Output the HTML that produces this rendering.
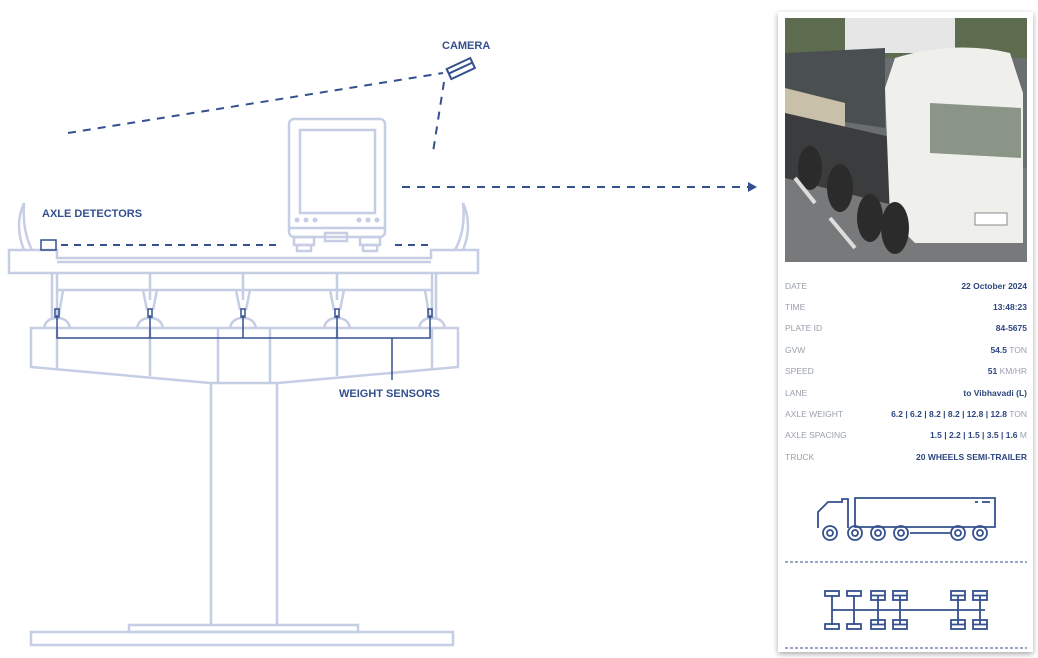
<!DOCTYPE html>
<html><head><meta charset="utf-8"><style>
html,body{margin:0;padding:0;background:#fff;}
body{width:1038px;height:658px;position:relative;overflow:hidden;font-family:"Liberation Sans",sans-serif;}
svg{position:absolute;left:0;top:0}
</style></head><body>
<svg width="1038" height="658" viewBox="0 0 1038 658" xmlns="http://www.w3.org/2000/svg">
<defs>
<filter id="sh" x="-10%" y="-10%" width="120%" height="120%"><feDropShadow dx="0" dy="2" stdDeviation="3" flood-color="#000" flood-opacity="0.35"/></filter>
</defs>
<g fill="none" stroke="#c6cee6" stroke-width="2.5">
<!-- kiosk -->
<rect x="289" y="119" width="96" height="118" rx="5"/>
<rect x="300" y="130" width="75" height="83"/>
<line x1="289" y1="228" x2="385" y2="228"/>
<rect x="294" y="237" width="20" height="8"/><rect x="360" y="237" width="20" height="8"/>
<rect x="297" y="245" width="14" height="6"/><rect x="363" y="245" width="14" height="6"/>
<rect x="325" y="233" width="22" height="8"/>
<!-- horns -->
<path d="M24 250 Q14 225 24 203 Q22 230 32 250"/>
<path d="M463 250 Q473 225 463 203 Q466 230 455 250"/>
<!-- deck -->
<path d="M9 250 H57 V258 H431 V250 H478 V273 H9 Z"/>
<line x1="57" y1="262" x2="431" y2="262"/>
<!-- piers -->
<path d="M52 273 V320 M57 273 V320 M150 273 V300 M243 273 V300 M337 273 V300 M432 273 V320 M436 273 V320"/>
<line x1="57" y1="290" x2="432" y2="290"/>
<path d="M63 290 L59 315 M143 290 L147 310 M157 290 L153 310 M236 290 L240 310 M250 290 L246 310 M330 290 L334 310 M344 290 L340 310 M425 290 L429 315"/>
<path d="M44 328 Q46 318 57 318 Q68 318 70 328 M137 328 Q139 318 150 318 Q161 318 163 328 M230 328 Q232 318 243 318 Q254 318 256 328 M324 328 Q326 318 337 318 Q348 318 350 328 M419 328 Q421 318 432 318 Q443 318 445 328"/>
<!-- cap beam -->
<path d="M31 328 H458 V367 L278 383 H210 L31 367 Z"/>
<path d="M57 328 V370 M150 328 V376 M218 328 V383 M270 328 V383 M337 328 V376 M432 328 V370"/>
<!-- column -->
<path d="M211 383 V625 M277 383 V625"/>
<rect x="129" y="625" width="229" height="7"/>
<rect x="31" y="632" width="422" height="13"/>
</g>
<g fill="#c6cee6"><circle cx="297" cy="220" r="2.5"/><circle cx="306" cy="220" r="2.5"/><circle cx="315" cy="220" r="2.5"/><circle cx="359" cy="220" r="2.5"/><circle cx="368" cy="220" r="2.5"/><circle cx="377" cy="220" r="2.5"/></g>
<!-- dark blue elements -->
<g fill="none" stroke="#34508e" stroke-width="2">
<rect x="41" y="240" width="15" height="10" stroke-width="1.5"/>
<line x1="61" y1="245" x2="280" y2="245" stroke-dasharray="7 6"/>
<line x1="395" y1="245" x2="430" y2="245" stroke-dasharray="7 6"/>
<line x1="68" y1="133" x2="443" y2="73" stroke-dasharray="8 7"/>
<line x1="444" y1="82" x2="433" y2="152" stroke-dasharray="8 7"/>
<line x1="402" y1="187" x2="750" y2="187" stroke-dasharray="8 7"/>
<path d="M57 315 V338 H430 V315 M150 315 V338 M243 315 V338 M337 315 V338 M392 338 V380" stroke-width="1.5"/>
<g stroke-width="1.5"><rect x="55" y="309" width="4" height="8"/><rect x="148" y="309" width="4" height="8"/><rect x="241" y="309" width="4" height="8"/><rect x="335" y="309" width="4" height="8"/><rect x="428" y="309" width="4" height="8"/></g>
<g transform="translate(461 69) rotate(-25)" stroke-width="2"><rect x="-13" y="-6" width="26" height="11"/><line x1="-13" y1="-1" x2="13" y2="-1"/></g>
</g>
<path d="M757 187 L748 182 L748 192 Z" fill="#34508e"/>
<g font-family="Liberation Sans, sans-serif" font-weight="bold" font-size="11" fill="#34508e">
<text x="442" y="49">CAMERA</text>
<text x="42" y="217">AXLE DETECTORS</text>
<text x="339" y="397">WEIGHT SENSORS</text>
</g>
<!-- card -->
<rect x="778" y="12" width="255" height="640" fill="#fff" filter="url(#sh)"/>
<!-- photo -->
<svg x="785" y="18" width="242" height="244" viewBox="0 0 242 244">
<rect width="242" height="244" fill="#6b6e70"/>
<rect width="242" height="40" fill="#5d6b4e"/>
<rect x="60" y="0" width="110" height="35" fill="#e6e6e6"/>
<rect x="0" y="150" width="242" height="94" fill="#77797a"/>
<path d="M0 35 L100 30 L100 110 L0 95 Z" fill="#4a5052"/>
<path d="M0 70 L60 85 L60 110 L0 95 Z" fill="#c9c0aa"/>
<path d="M0 95 L110 120 L120 190 L0 160 Z" fill="#3a3c3e"/>
<path d="M110 40 Q170 22 225 35 L238 75 L238 225 L130 225 L105 200 L100 70 Z" fill="#efefec"/>
<path d="M145 85 L236 90 L236 140 L145 135 Z" fill="#8a9487"/>
<rect x="190" y="195" width="32" height="12" fill="#fff" stroke="#888"/>
<ellipse cx="110" cy="210" rx="14" ry="26" fill="#2b2b2b"/>
<ellipse cx="85" cy="200" rx="13" ry="24" fill="#2b2b2b"/>
<ellipse cx="55" cy="170" rx="13" ry="24" fill="#2b2b2b"/>
<ellipse cx="25" cy="150" rx="12" ry="22" fill="#2b2b2b"/>
<path d="M10 160 L30 185 M45 200 L70 230" stroke="#ddd" stroke-width="4"/>
</svg>
<g font-family="Liberation Sans, sans-serif" font-size="8.5" fill="#9aa0ab">
<text x="785" y="289">DATE</text><text x="785" y="310">TIME</text><text x="785" y="331">PLATE ID</text><text x="785" y="353">GVW</text><text x="785" y="374">SPEED</text><text x="785" y="396">LANE</text><text x="785" y="417">AXLE WEIGHT</text><text x="785" y="438">AXLE SPACING</text><text x="785" y="460">TRUCK</text>
</g>
<g font-family="Liberation Sans, sans-serif" font-size="8.5" text-anchor="end">
<text x="1027" y="289" font-weight="bold" fill="#2d4680">22 October 2024</text>
<text x="1027" y="310" font-weight="bold" fill="#2d4680">13:48:23</text>
<text x="1027" y="331" font-weight="bold" fill="#2d4680">84-5675</text>
<text x="1027" y="353" fill="#9aa0ab"><tspan font-weight="bold" fill="#2d4680">54.5</tspan>  TON</text>
<text x="1027" y="374" fill="#9aa0ab"><tspan font-weight="bold" fill="#2d4680">51</tspan>  KM/HR</text>
<text x="1027" y="396" font-weight="bold" fill="#2d4680">to Vibhavadi (L)</text>
<text x="1027" y="417" fill="#9aa0ab"><tspan font-weight="bold" fill="#2d4680">6.2 | 6.2 | 8.2 | 8.2 | 12.8 | 12.8</tspan>  TON</text>
<text x="1027" y="438" fill="#9aa0ab"><tspan font-weight="bold" fill="#2d4680">1.5 | 2.2 | 1.5 | 3.5 | 1.6</tspan>  M</text>
<text x="1027" y="460" font-weight="bold" fill="#2d4680">20 WHEELS SEMI-TRAILER</text>
</g>
<!-- truck icon -->
<g fill="none" stroke="#34508e" stroke-width="1.8">
<path d="M818 528 V512 L828 502 H842 V499 H848 V528"/>
<path d="M855 498 H995 V527 H855 Z"/>
<line x1="982" y1="502" x2="990" y2="502"/><line x1="975" y1="502" x2="978" y2="502"/>
<circle cx="830" cy="533" r="7"/><circle cx="830" cy="533" r="3"/>
<circle cx="855" cy="533" r="7"/><circle cx="855" cy="533" r="3"/>
<circle cx="878" cy="533" r="7"/><circle cx="878" cy="533" r="3"/>
<circle cx="901" cy="533" r="7"/><circle cx="901" cy="533" r="3"/>
<circle cx="958" cy="533" r="7"/><circle cx="958" cy="533" r="3"/>
<circle cx="980" cy="533" r="7"/><circle cx="980" cy="533" r="3"/>
<line x1="910" y1="533" x2="950" y2="533"/>
</g>
<line x1="785" y1="562" x2="1027" y2="562" stroke="#34508e" stroke-width="1" stroke-dasharray="3 2"/>
<line x1="785" y1="648" x2="1027" y2="648" stroke="#34508e" stroke-width="1" stroke-dasharray="3 2"/>
<!-- axle diagram -->
<g fill="none" stroke="#34508e" stroke-width="1.8">
<line x1="832" y1="610" x2="985" y2="610"/>
<path d="M832 595 V625 M854 595 V625 M878 595 V625 M900 595 V625 M958 595 V625 M980 595 V625"/>
<rect x="825" y="591" width="14" height="5"/><rect x="825" y="624" width="14" height="5"/>
<rect x="847" y="591" width="14" height="5"/><rect x="847" y="624" width="14" height="5"/>
<rect x="871" y="591" width="14" height="9"/><rect x="871" y="620" width="14" height="9"/>
<rect x="893" y="591" width="14" height="9"/><rect x="893" y="620" width="14" height="9"/>
<rect x="951" y="591" width="14" height="9"/><rect x="951" y="620" width="14" height="9"/>
<rect x="973" y="591" width="14" height="9"/><rect x="973" y="620" width="14" height="9"/>
<path d="M871 595.5 H885 M893 595.5 H907 M951 595.5 H965 M973 595.5 H987 M871 624.5 H885 M893 624.5 H907 M951 624.5 H965 M973 624.5 H987"/>
</g>
</svg>
</body></html>
